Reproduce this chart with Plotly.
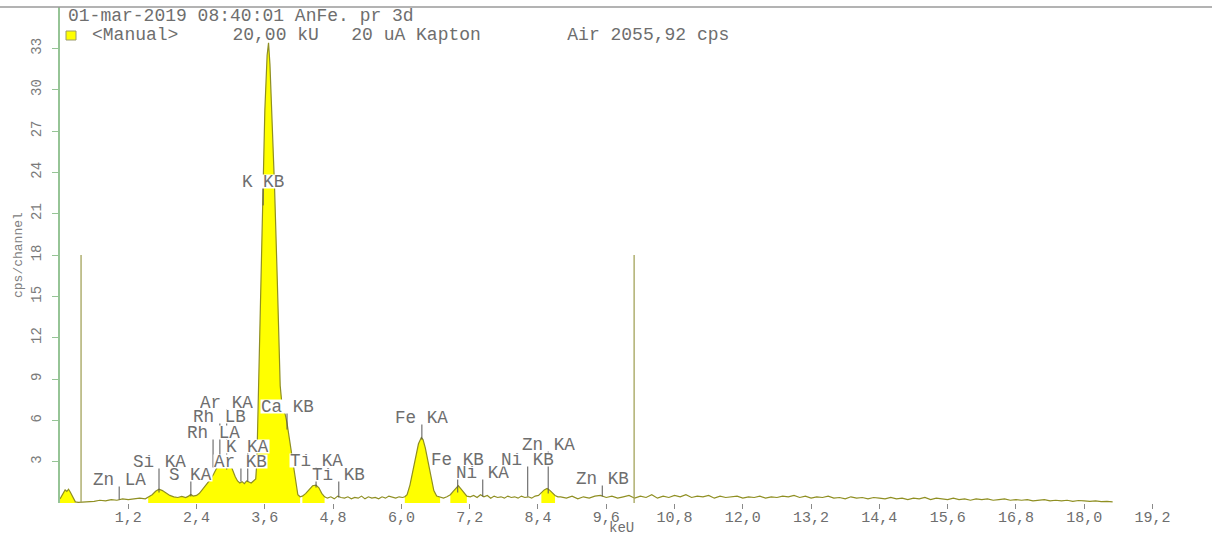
import numpy as np
import plotly.graph_objects as go

# ---------------- data ----------------
low_kev = [0.00, 0.03, 0.06, 0.09, 0.12, 0.15, 0.18, 0.21, 0.24, 0.27, 0.32, 0.40, 0.50,
           0.60, 0.70, 0.80, 0.90, 1.00, 1.10, 1.20, 1.30, 1.40, 1.50]
low_cps = [0.30, 0.55, 0.80, 0.95, 0.85, 1.00, 0.80, 0.55, 0.25, 0.08, 0.05, 0.06, 0.08,
           0.12, 0.20, 0.15, 0.25, 0.20, 0.30, 0.25, 0.30, 0.35, 0.30]

main_kev = [1.55, 1.62, 1.68, 1.74, 1.80, 1.86, 1.93, 2.00, 2.07, 2.14, 2.21, 2.26, 2.30, 2.34,
            2.40, 2.45, 2.50, 2.55, 2.60, 2.65, 2.70, 2.75, 2.80, 2.85, 2.90, 2.95, 3.00, 3.04,
            3.08, 3.12, 3.16, 3.20, 3.24, 3.28, 3.32, 3.36, 3.40, 3.44, 3.46, 3.475, 3.49, 3.52,
            3.56, 3.60, 3.64, 3.665, 3.69, 3.73, 3.77, 3.82, 3.87, 3.90, 3.93, 3.96, 3.99, 4.03,
            4.09, 4.14, 4.18, 4.22]
main_cps = [0.40, 0.60, 0.85, 1.00, 0.90, 0.72, 0.55, 0.45, 0.40, 0.48, 0.40, 0.50, 0.62, 0.50,
            0.55, 0.70, 0.95, 1.20, 1.50, 1.75, 2.10, 2.50, 2.75, 2.85, 2.80, 2.90, 2.75, 2.30,
            1.90, 1.60, 1.45, 1.55, 1.40, 1.60, 1.50, 1.45, 1.60, 1.75, 3.00, 6.00, 7.80, 14.0,
            23.0, 28.5, 32.5, 33.4, 31.8, 27.5, 23.0, 16.0, 8.5, 7.2, 6.8, 6.4, 5.8, 4.75,
            2.9, 1.7, 0.6, 0.45]

mid_kev = [4.26, 4.32, 4.38, 4.44, 4.50, 4.55, 4.60, 4.65, 4.70, 4.76, 4.82, 4.88, 4.94, 5.00,
           5.06, 5.12, 5.18, 5.24, 5.30, 5.36, 5.42, 5.48, 5.54, 5.60, 5.66, 5.72, 5.78, 5.84,
           5.90, 5.96, 6.02]
mid_cps = [0.50, 0.70, 1.00, 1.25, 1.30, 1.10, 0.70, 0.45, 0.35, 0.45, 0.30, 0.50, 0.40, 0.35,
           0.45, 0.30, 0.40, 0.35, 0.50, 0.30, 0.45, 0.35, 0.40, 0.30, 0.45, 0.35, 0.50, 0.40,
           0.35, 0.45, 0.40]

fe_kev = [6.06, 6.10, 6.15, 6.20, 6.25, 6.30, 6.35, 6.38, 6.42, 6.47, 6.52, 6.57, 6.62, 6.68,
          6.74, 6.80, 6.86, 6.91, 6.96, 7.00, 7.05, 7.10, 7.15, 7.21, 7.27, 7.33, 7.39, 7.45,
          7.51, 7.57, 7.63, 7.69, 7.75, 7.81, 7.87, 7.93, 7.99, 8.05, 8.11, 8.17, 8.23, 8.29,
          8.35, 8.41, 8.46, 8.51, 8.56, 8.60, 8.65, 8.70, 8.75]
fe_cps = [0.45, 0.60, 1.30, 2.30, 3.40, 4.30, 4.75, 4.60, 4.00, 3.00, 1.80, 0.90, 0.50, 0.40,
          0.35, 0.45, 0.60, 0.85, 1.10, 1.25, 1.00, 0.75, 0.50, 0.45, 0.55, 0.40, 0.60, 0.45,
          0.55, 0.35, 0.50, 0.40, 0.45, 0.35, 0.50, 0.40, 0.45, 0.35, 0.50, 0.40, 0.45, 0.35,
          0.50, 0.55, 0.75, 0.95, 1.05, 0.95, 0.75, 0.55, 0.45]

tail_kev = [8.8, 8.9, 9.0, 9.1, 9.2, 9.3, 9.4, 9.5, 9.6, 9.7, 9.8, 9.9, 10.0, 10.1, 10.2, 10.3,
            10.4, 10.5, 10.6, 10.7, 10.8, 10.9, 11.0, 11.1, 11.2, 11.3, 11.4, 11.5, 11.6, 11.7,
            11.8, 11.9, 12.0, 12.1, 12.2, 12.3, 12.4, 12.5, 12.6, 12.7, 12.8, 12.9, 13.0, 13.1,
            13.2, 13.3, 13.4, 13.5, 13.6, 13.7, 13.8, 13.9, 14.0, 14.1, 14.2, 14.3, 14.4, 14.5,
            14.6, 14.7, 14.8, 14.9, 15.0, 15.1, 15.2, 15.3, 15.4, 15.5, 15.6, 15.7, 15.8, 15.9,
            16.0, 16.1, 16.2, 16.3, 16.4, 16.5, 16.6, 16.7, 16.8, 16.9, 17.0, 17.1, 17.2, 17.3,
            17.4, 17.5, 17.6, 17.7, 17.8, 17.9, 18.0, 18.1, 18.2, 18.3, 18.4, 18.5]
tail_cps = [0.45, 0.35, 0.50, 0.30, 0.45, 0.35, 0.50, 0.55, 0.40, 0.50, 0.35, 0.45, 0.55, 0.35,
            0.50, 0.40, 0.60, 0.35, 0.50, 0.40, 0.55, 0.45, 0.60, 0.40, 0.50, 0.45, 0.55, 0.35,
            0.50, 0.40, 0.45, 0.50, 0.35, 0.45, 0.40, 0.50, 0.35, 0.45, 0.40, 0.50, 0.45, 0.55,
            0.40, 0.50, 0.35, 0.45, 0.40, 0.50, 0.35, 0.40, 0.30, 0.45, 0.35, 0.40, 0.30, 0.40,
            0.35, 0.30, 0.40, 0.30, 0.35, 0.25, 0.35, 0.30, 0.40, 0.25, 0.35, 0.30, 0.25, 0.35,
            0.25, 0.30, 0.20, 0.30, 0.25, 0.30, 0.20, 0.25, 0.30, 0.20, 0.25, 0.20, 0.25, 0.15,
            0.20, 0.25, 0.15, 0.20, 0.15, 0.20, 0.12, 0.18, 0.15, 0.12, 0.15, 0.10, 0.12, 0.08]

# energy ranges drawn with yellow fill (peak areas)
fill_ranges_kev = [(0.0, 0.27), (1.55, 4.22), (4.26, 4.65), (6.06, 6.68), (6.86, 7.15), (8.46, 8.70)]

# element lines: label, energy, line top, line bottom (cps/channel)
peak_labels = ["Zn LA", "Si KA", "S KA", "Rh LA", "Rh LB", "Ar KA", "Ar KB", "K KA", "K KB",
               "Ca KB", "Ti KA", "Ti KB", "Fe KA", "Fe KB", "Ni KA", "Ni KB", "Zn KA", "Zn KB"]
peak_kev = [1.04, 1.74, 2.30, 2.69, 2.81, 2.93, 3.18, 3.30, 3.57,
            3.99, 4.50, 4.90, 6.36, 6.99, 7.43, 8.22, 8.58, 9.53]
peak_top = [1.34, 2.64, 1.70, 4.75, 5.90, 6.92, 2.64, 3.73, 22.9,
            6.63, 2.72, 1.70, 5.83, 2.79, 1.85, 2.79, 3.88, 1.41]
peak_bottom = [0.25, 0.76, 0.47, 2.57, 2.57, 2.43, 1.56, 1.56, 21.6,
               5.33, 1.12, 0.40, 4.60, 0.76, 0.47, 0.47, 0.69, 0.47]

# region markers
marker_kev = [0.37, 10.09]
marker_height = [18, 18]

x_tickvals = [1.2, 2.4, 3.6, 4.8, 6.0, 7.2, 8.4, 9.6, 10.8, 12.0, 13.2, 14.4, 15.6, 16.8, 18.0, 19.2]
x_ticktext = ["1,2", "2,4", "3,6", "4,8", "6,0", "7,2", "8,4", "9,6", "10,8", "12,0", "13,2",
              "14,4", "15,6", "16,8", "18,0", "19,2"]
y_tickvals = [3, 6, 9, 12, 15, 18, 21, 24, 27, 30, 33]
y_ticktext = ["3", "6", "9", "12", "15", "18", "21", "24", "27", "30", "33"]

header_line1 = "01-mar-2019 08:40:01 AnFe. pr 3d"
header_line2 = "<Manual>     20,00 kU   20 uA Kapton        Air 2055,92 cps"

# ---------------- figure ----------------
energy = np.array(low_kev + main_kev + mid_kev + fe_kev + tail_kev)
counts = np.array(low_cps + main_cps + mid_cps + fe_cps + tail_cps)

W, H = 1212, 537
ML, MR, MT, MB = 60, 0, 7, 33.5
plot_w = W - ML - MR
plot_h = H - MT - MB
px_per_kev = 56.9
x_max = plot_w / px_per_kev

MONO = "Liberation Mono, DejaVu Sans Mono, monospace"
TXT = "#6e6e6e"

fig = go.Figure()
for a, b in fill_ranges_kev:
    m = (energy >= a - 1e-9) & (energy <= b + 1e-9)
    fig.add_trace(go.Scatter(x=energy[m], y=counts[m], mode="lines", fill="tozeroy",
                             fillcolor="#ffff00", line=dict(color="rgba(0,0,0,0)", width=0),
                             hoverinfo="skip", showlegend=False))
fig.add_trace(go.Scatter(x=energy, y=counts, mode="lines",
                         line=dict(color="#8f8f22", width=1.2), showlegend=False))

# region markers
mx, my = [], []
for e, h in zip(marker_kev, marker_height):
    mx += [e, e, None]
    my += [0, h, None]
fig.add_trace(go.Scatter(x=mx, y=my, mode="lines", line=dict(color="#a3a35a", width=1.3),
                         showlegend=False, hoverinfo="skip"))

# element marker lines
lx, ly = [], []
for e, t, b in zip(peak_kev, peak_top, peak_bottom):
    lx += [e, e, None]
    ly += [b, t, None]
fig.add_trace(go.Scatter(x=lx, y=ly, mode="lines", line=dict(color="#555555", width=1),
                         showlegend=False, hoverinfo="skip"))

annotations = []
for lab, e, t in zip(peak_labels, peak_kev, peak_top):
    annotations.append(dict(x=e, y=t, xref="x", yref="y", text=lab.replace(" ", "\u00a0"),
                            showarrow=False, xanchor="center", yanchor="bottom", yshift=-2,
                            bgcolor="white", borderpad=0, height=13, valign="middle",
                            font=dict(family=MONO, size=17.6, color=TXT)))

annotations += [
    dict(x=0, y=1, xref="paper", yref="paper", xanchor="left", yanchor="middle",
         xshift=6, yshift=-9, showarrow=False, text=header_line1.replace(" ", "\u00a0"),
         font=dict(family=MONO, size=18, color=TXT)),
    dict(x=0, y=1, xref="paper", yref="paper", xanchor="left", yanchor="middle",
         xshift=30, yshift=-28, showarrow=False, text=header_line2.replace(" ", "\u00a0"),
         font=dict(family=MONO, size=18, color=TXT)),
    dict(x=0, y=0.5, xref="paper", yref="paper", xanchor="center", yanchor="middle",
         xshift=-42, showarrow=False, text="cps/channel", textangle=-90,
         font=dict(family=MONO, size=13, color="#808080")),
    dict(x=(621 - ML) / plot_w, y=0, xref="paper", yref="paper", xanchor="center",
         yanchor="middle", yshift=-25, showarrow=False, text="keU",
         font=dict(family=MONO, size=14, color=TXT)),
    dict(x=(635 - ML) / plot_w, y=1, xref="paper", yref="paper", xanchor="center",
         yanchor="bottom", yshift=3, showarrow=False, text="keU",
         font=dict(family=MONO, size=15, color="#999999")),
]

shapes = [
    dict(type="line", xref="paper", yref="paper", x0=-ML / plot_w, x1=1, y0=1, y1=1,
         line=dict(color="#9a9a9a", width=1.5)),
    dict(type="rect", xref="paper", yref="paper", xsizemode="pixel", ysizemode="pixel",
         xanchor=0, yanchor=1, x0=6, x1=16, y0=-33, y1=-24,
         fillcolor="#ffff00", line=dict(color="#9a9a6a", width=1)),
]

fig.update_layout(
    width=W, height=H,
    margin=dict(l=ML, r=MR, t=MT, b=MB, pad=0),
    paper_bgcolor="white", plot_bgcolor="white",
    showlegend=False,
    annotations=annotations, shapes=shapes,
    xaxis=dict(range=[0, x_max], tickvals=x_tickvals, ticktext=x_ticktext,
               showgrid=False, zeroline=False, showline=False,
               ticks="outside", ticklen=5, tickcolor="#8a8a8a", tickwidth=1,
               ticklabelstandoff=-5,
               tickfont=dict(family=MONO, size=15, color=TXT)),
    yaxis=dict(range=[0, 36], tickvals=y_tickvals, ticktext=y_ticktext,
               showgrid=False, zeroline=False, showline=True, linecolor="#96c496",
               linewidth=1.5, ticks="outside", ticklen=6, tickcolor="#96c496",
               tickangle=-90, ticklabelstandoff=6,
               tickfont=dict(family=MONO, size=14, color="#7a7a7a")),
)

fig.write_html("out.html", config={"displayModeBar": False},
               post_script="document.body.style.margin='0';")
